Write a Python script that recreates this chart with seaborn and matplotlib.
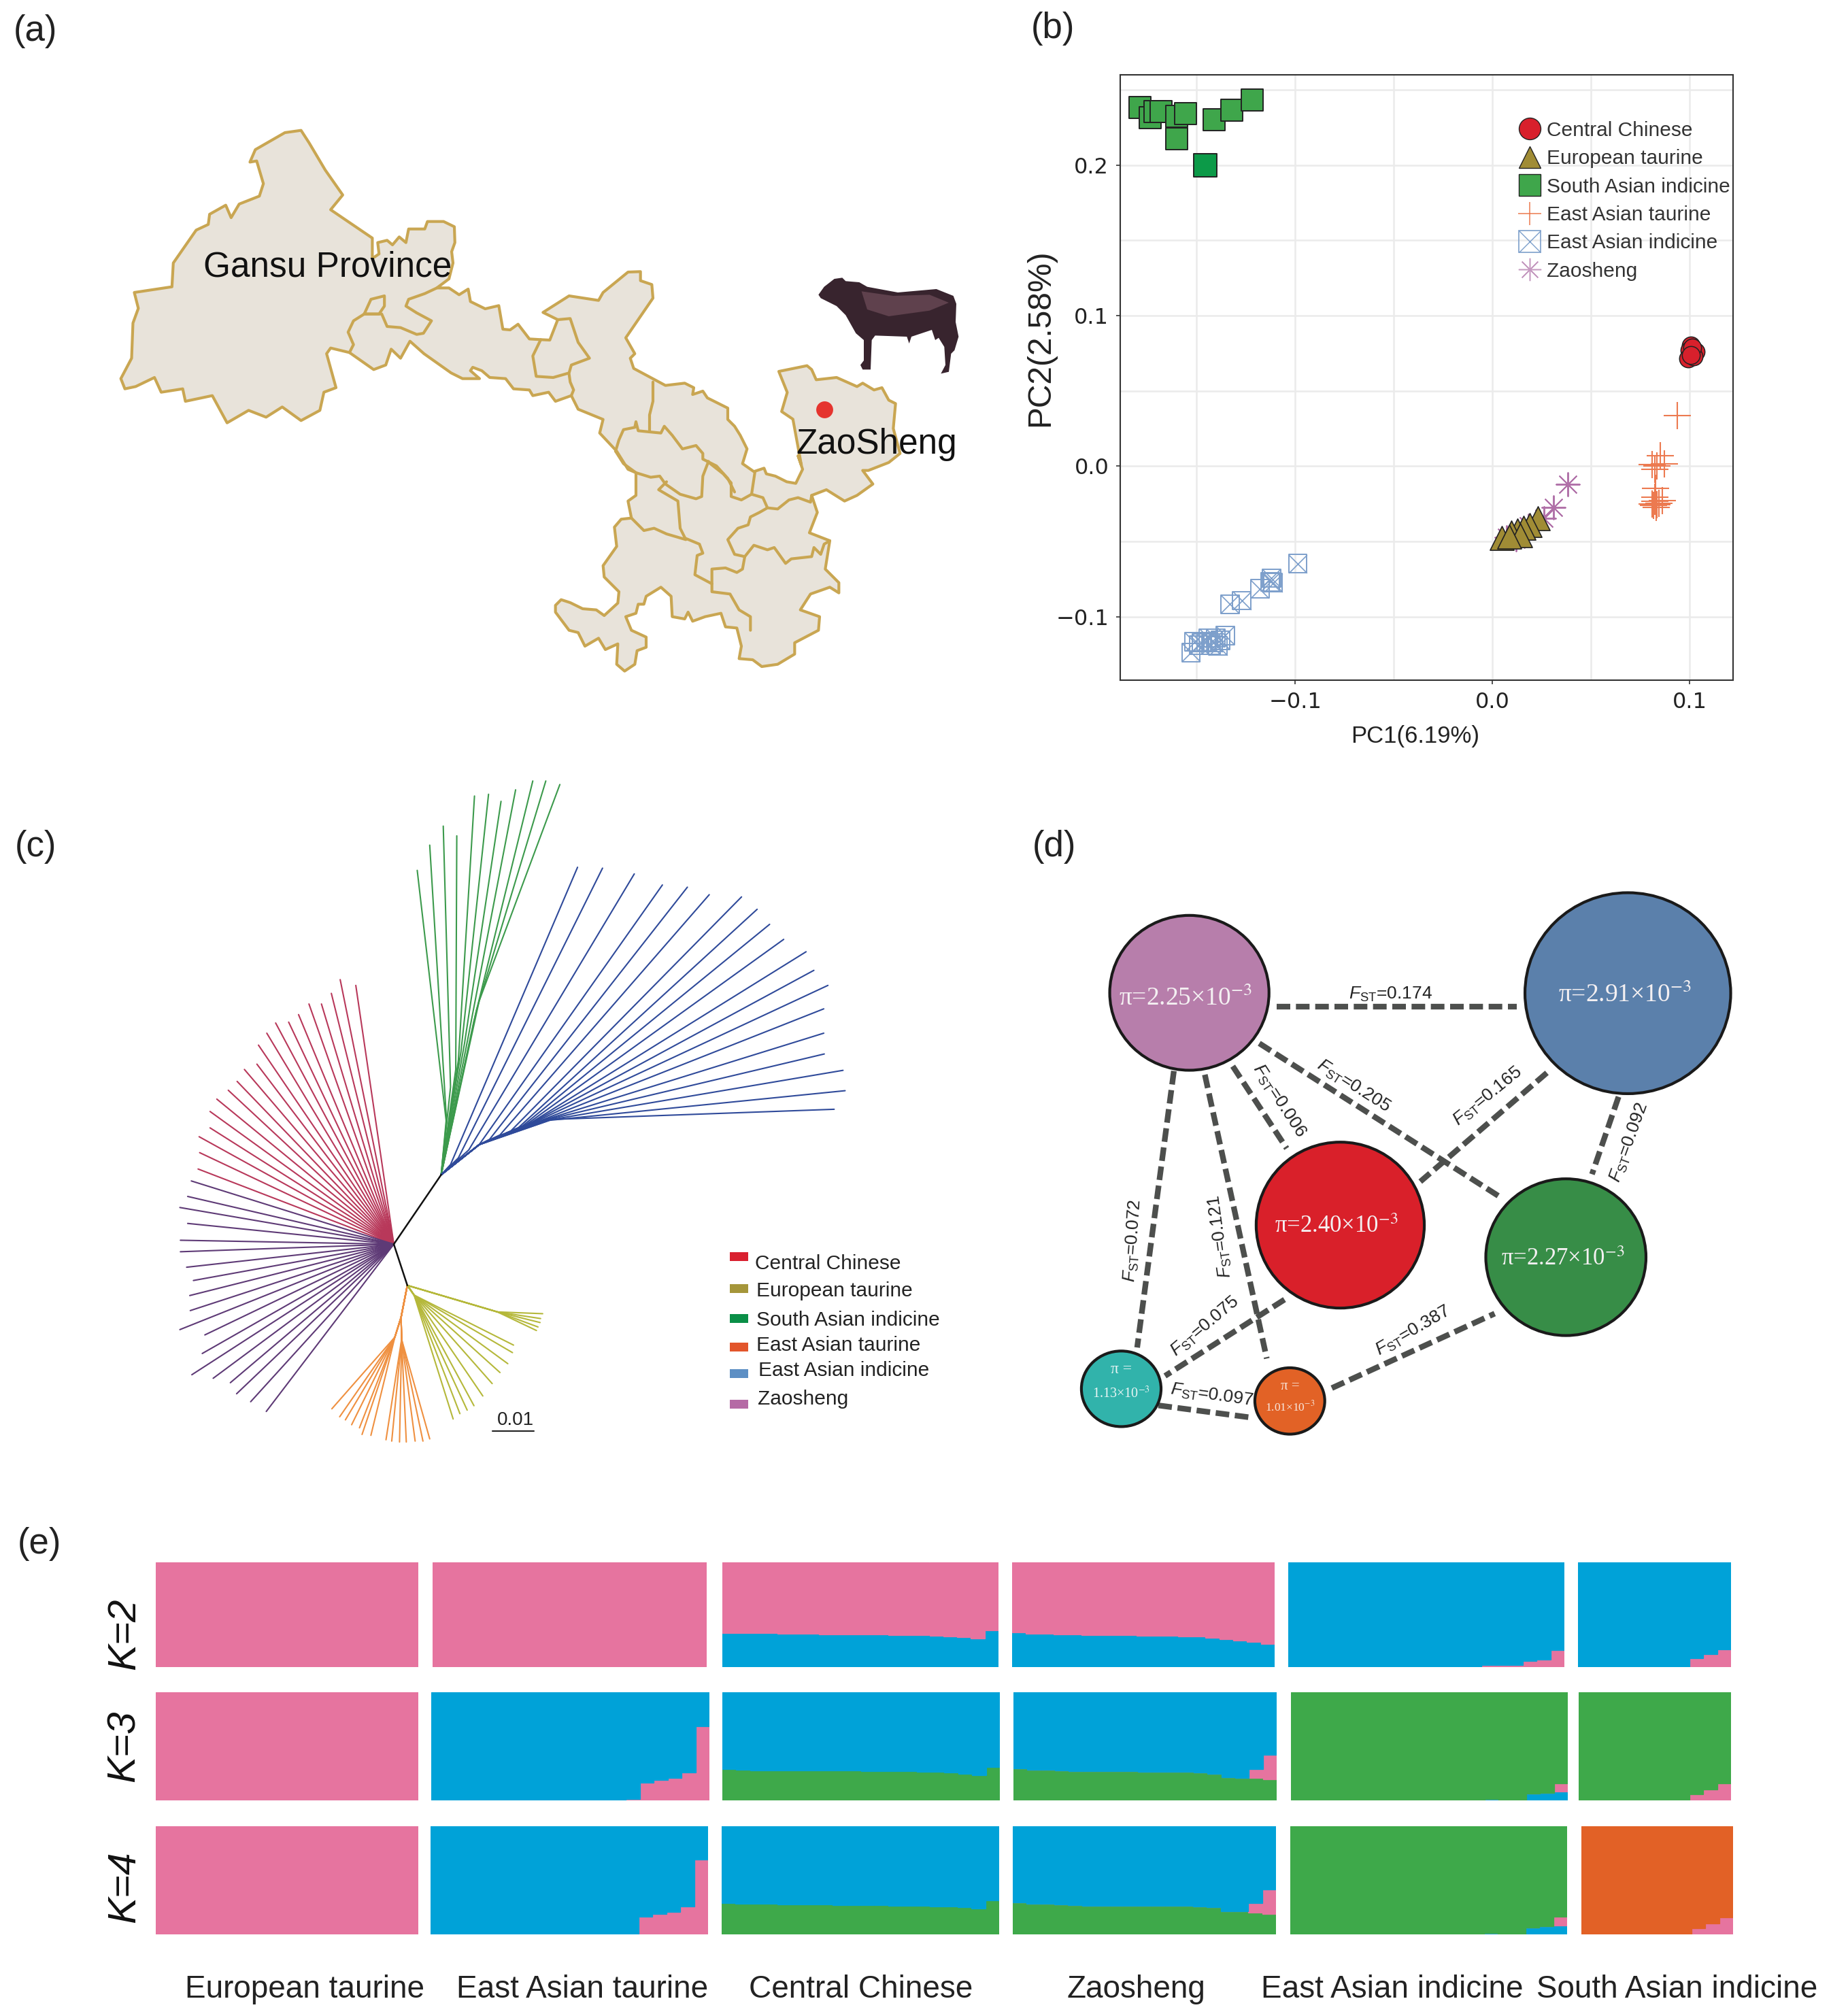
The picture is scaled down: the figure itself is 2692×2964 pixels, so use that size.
import numpy as np
import matplotlib
matplotlib.use('Agg')
import matplotlib.pyplot as plt
from matplotlib.lines import Line2D
from matplotlib.markers import MarkerStyle
from matplotlib.patches import Ellipse, Rectangle
import seaborn as sns

W, H = 2692, 2964

# ── panel (b) PCA points ────────────────────────────────
pc_south = [(-0.1785, 0.2384), (-0.1736, 0.2316), (-0.171, 0.2356), (-0.168, 0.2356), (-0.160, 0.2325),
            (-0.1555, 0.2341), (-0.160, 0.2173), (-0.1412, 0.2303), (-0.132, 0.2362), (-0.1216, 0.2431)]
pc_south_dark = [(-0.1456, 0.1999)]
pc_central = [(0.1004, 0.0802), (0.0999, 0.0771), (0.1028, 0.0762), (0.0992, 0.0715), (0.102, 0.073),
              (0.1011, 0.0786), (0.1004, 0.074)]
pc_ea_taurine = [(0.0938, 0.0336), (0.0851, 0.0071), (0.081, 0.0009), (0.0871, 0.0016), (0.0822, -0.0022),
                 (0.0834, 0.0), (0.0827, -0.0146), (0.0822, -0.0208), (0.0859, -0.023), (0.081, -0.0249),
                 (0.0834, -0.0255), (0.0822, -0.0235), (0.0815, -0.0262), (0.0828, -0.0275), (0.0845, -0.0245)]
pc_zaosheng = [(0.0382, -0.0121), (0.031, -0.0274), (0.0261, -0.0348), (0.0181, -0.0395), (0.0121, -0.0488),
               (0.0073, -0.0472)]
pc_european = [(0.023, -0.0348), (0.0189, -0.0389), (0.0157, -0.041), (0.0126, -0.0426), (0.0097, -0.0441),
               (0.014, -0.0457), (0.0048, -0.0479), (0.0085, -0.0466)]
pc_ea_indicine = [(-0.0987, -0.0647), (-0.112, -0.0743), (-0.1112, -0.0774), (-0.1125, -0.0768), (-0.1178, -0.0814),
                  (-0.127, -0.0892), (-0.133, -0.0917), (-0.1528, -0.1237), (-0.1511, -0.1166), (-0.1475, -0.1172),
                  (-0.1439, -0.1141), (-0.1415, -0.1172), (-0.1391, -0.1194), (-0.1354, -0.1125), (-0.1378, -0.1156),
                  (-0.1427, -0.1187), (-0.1487, -0.1187), (-0.1403, -0.1141), (-0.1451, -0.1166)]
legend_b = ['Central Chinese', 'European taurine', 'South Asian indicine', 'East Asian taurine',
            'East Asian indicine', 'Zaosheng']

# ── panel (a) map, traced from crops of the picture ─────
# each crop: origin x, origin y, x scale, y scale
CROP_A = (150, 160, 2.529, 3)
CROP_B = (580, 380, 3, 3)
CROP_C = (780, 640, 3, 3)
CROP_M = (150, 150, 1.206, 1.78)
CROP_Z = (1180, 390, 3, 3)

outer_a1 = [(740, 95), (770, 150), (830, 270), (895, 380), (850, 445), (1005, 570), (1005, 660), (1030, 640),
            (1025, 590), (1060, 580), (1080, 600), (1105, 565), (1130, 590), (1140, 530), (1200, 530), (1210, 497),
            (1270, 497), (1310, 520), (1312, 590), (1300, 630), (1305, 680), (1290, 750), (1245, 790)]
outer_b1 = [(240, 130), (285, 160), (325, 135), (335, 190), (400, 222), (460, 208), (478, 312), (510, 315), (545, 290),
            (595, 355), (645, 358), (685, 360), (720, 270), (655, 238), (770, 165), (900, 185), (920, 150), (1030, 60),
            (1085, 58), (1085, 98), (1135, 115), (1140, 175), (1020, 350), (1060, 420), (1040, 440), (1055, 485),
            (1195, 560), (1280, 550), (1320, 570), (1315, 600), (1360, 585), (1380, 615), (1470, 660), (1470, 710),
            (1500, 740)]
outer_c1 = [(925, 0), (955, 60), (935, 125), (985, 160), (1030, 145), (1040, 170), (1080, 180), (1130, 205), (1170, 212),
            (1200, 150), (1180, 90)]
outer_m = [(1240, 950), (1225, 830), (1205, 810), (1215, 760), (1200, 705), (1250, 690)]
outer_z = [(40, 460), (60, 505), (150, 495), (240, 535), (265, 520), (315, 550), (350, 540), (380, 595), (410, 610),
           (400, 720), (430, 830), (380, 870), (290, 905), (265, 905)]
outer_c2 = [(1510, 215), (1440, 265), (1385, 290), (1305, 240), (1240, 265), (1265, 340), (1230, 430), (1320, 465),
            (1300, 590), (1360, 650), (1360, 695), (1320, 670), (1235, 700), (1190, 770), (1275, 800), (1270, 860),
            (1165, 915), (1165, 965), (1090, 1010), (1020, 1020), (980, 990), (920, 985), (930, 930), (910, 850),
            (860, 845), (840, 785), (770, 800), (715, 820), (695, 780), (680, 810), (625, 800), (620, 710), (575, 670),
            (510, 710), (500, 745), (475, 745), (465, 785), (420, 800), (445, 860), (510, 890), (510, 935), (470, 950),
            (460, 1010), (415, 1040), (380, 1010), (385, 920), (330, 945), (300, 895), (240, 930), (210, 870),
            (170, 860), (110, 780), (110, 750), (135, 725), (175, 738), (230, 765), (290, 770), (325, 795), (385, 740),
            (390, 690), (325, 625), (320, 575), (380, 490), (370, 405), (400, 370), (445, 365), (430, 290), (465, 265),
            (465, 165), (430, 150), (380, 70)]
outer_b2 = [(905, 770), (920, 710), (810, 665), (780, 605), (710, 630), (680, 590), (610, 605), (595, 580), (525, 575),
            (490, 530), (420, 525), (385, 495), (345, 480), (335, 495), (375, 530), (300, 530), (250, 505), (130, 420)]
outer_a2 = [(1145, 1025), (1110, 1100), (1075, 1060), (1055, 1130), (1010, 1150), (920, 1075), (850, 1055), (835, 1080),
            (870, 1230), (825, 1250), (810, 1330), (740, 1375), (670, 1315), (610, 1360), (545, 1330), (465, 1385),
            (410, 1265), (310, 1290), (300, 1235), (220, 1250), (195, 1185), (125, 1225), (85, 1235), (70, 1190),
            (110, 1100), (115, 945), (135, 880), (120, 810), (260, 785), (265, 680), (350, 535), (395, 510), (400, 465),
            (460, 425), (480, 480), (510, 420), (585, 385), (600, 330), (575, 230), (550, 235), (570, 180), (680, 105)]
outer_parts = [(outer_a1, CROP_A), (outer_b1, CROP_B), (outer_c1, CROP_C), (outer_m, CROP_M), (outer_z, CROP_Z),
               (outer_c2, CROP_C), (outer_b2, CROP_B), (outer_a2, CROP_A)]

inner_a = [[(975, 905), (1000, 840), (1050, 825), (1050, 870), (1030, 905), (975, 905)],
           [(920, 1075), (935, 1040), (915, 985), (935, 935), (975, 905), (1040, 905), (1060, 960), (1110, 965),
            (1170, 995), (1195, 990), (1225, 935), (1170, 900), (1130, 870), (1140, 840), (1200, 815), (1245, 790)]]
inner_b = [[(645, 358), (610, 430), (625, 520), (700, 525), (770, 505), (780, 470), (860, 440), (810, 370), (775, 265),
            (720, 270)],
           [(770, 510), (775, 545), (790, 580), (780, 605)],
           [(1140, 545), (1140, 630), (1125, 690), (1125, 765)],
           [(975, 850), (990, 800), (1010, 755), (1060, 745), (1065, 720), (1075, 760), (1125, 765), (1175, 770),
            (1190, 740), (1225, 780), (1270, 840), (1330, 825), (1360, 860), (1360, 885), (1420, 915), (1470, 970),
            (1500, 1030)],
           [(975, 850), (1010, 905), (1065, 945), (1130, 965), (1170, 960), (1195, 995), (1260, 1040), (1330, 1060),
            (1355, 1050), (1360, 960), (1385, 895)]]
inner_c = [[(600, 205), (565, 240), (650, 290), (660, 410), (685, 460), (600, 435), (545, 410), (500, 420), (445, 365)],
           [(685, 455), (745, 480), (760, 520), (735, 530), (725, 615), (800, 655), (800, 590), (860, 585), (910, 605),
            (935, 590), (945, 535)],
           [(800, 655), (800, 690), (880, 700), (920, 770), (970, 800), (970, 860)],
           [(945, 535), (900, 525), (870, 460), (915, 410), (960, 395), (970, 360), (1010, 340), (1045, 320), (1025, 275),
            (975, 260), (990, 160)],
           [(975, 260), (930, 285), (885, 270), (885, 210), (850, 170), (780, 115)],
           [(1045, 320), (1090, 325), (1140, 285), (1180, 275), (1235, 295), (1240, 265)],
           [(945, 535), (985, 485), (1045, 505), (1075, 495), (1125, 565), (1150, 545), (1240, 535), (1250, 495),
            (1280, 525), (1295, 480), (1320, 465)]]
cow_body = [(70, 130), (95, 95), (140, 60), (175, 55), (190, 70), (250, 75), (285, 95), (420, 120), (590, 105), (665, 135),
            (678, 170), (675, 250), (688, 315), (670, 375), (655, 390), (645, 470), (610, 478), (630, 440), (625, 360),
            (600, 320), (585, 330), (570, 285), (480, 315), (470, 345), (460, 315), (320, 310), (305, 330), (300, 460),
            (265, 460), (255, 440), (270, 420), (270, 330), (235, 300), (190, 220), (150, 180), (80, 145)]
cow_light = [(260, 115), (400, 135), (560, 130), (645, 165), (560, 200), (380, 225), (285, 195)]

# ── panel (c) tree tips ─────────────────────────────────
tree_root = (456, 1075)
node_up = (547, 918)
node_down = (482, 1168)
tips_red = [(383, 490), (353, 477), (336, 508), (317, 532), (293, 532), (273, 556), (254, 573), (229, 575), (212, 598),
            (196, 625), (193, 668), (169, 680), (155, 707), (138, 727), (116, 747), (103, 775), (103, 812), (82, 832),
            (83, 868), (80, 905)]
tips_purple = [(67, 932), (60, 967), (45, 992), (60, 1028), (46, 1066), (46, 1092), (58, 1127), (71, 1157), (64, 1191),
               (65, 1225), (45, 1268), (93, 1280), (88, 1322), (68, 1370), (109, 1378), (142, 1388), (154, 1413),
               (181, 1431), (211, 1453)]
tips_green = [(501, 230), (525, 173), (551, 130), (577, 152), (611, 62), (638, 58), (662, 74), (690, 48), (723, 28),
              (748, 28), (775, 36)]
forks_green = [(557, 800), (557, 790), (565, 720), (575, 680), (580, 660), (585, 640), (592, 620), (600, 600),
               (610, 570), (615, 545), (620, 525)]
tips_blue = [(809, 223), (857, 225), (918, 238), (972, 263), (1020, 268), (1062, 285), (1124, 290), (1154, 318),
             (1178, 352), (1205, 386), (1248, 414), (1263, 456), (1290, 490), (1282, 543), (1282, 598), (1283, 645),
             (1319, 682), (1323, 728), (1302, 770)]
forks_blue = [(565, 895), (580, 880), (600, 862), (620, 850), (640, 838), (660, 828), (680, 820), (695, 812),
              (703, 808), (710, 805), (720, 800), (725, 798), (730, 797), (735, 797), (740, 796), (745, 795),
              (750, 795), (755, 795), (760, 793)]
tips_orange_a = [(337, 1447), (352, 1465), (363, 1472), (375, 1483), (390, 1490), (395, 1505), (412, 1507)]
tips_orange_b = [(441, 1517), (452, 1520), (467, 1522), (480, 1522), (497, 1520), (512, 1520), (525, 1515)]
tips_olive = [(570, 1470), (583, 1458), (597, 1450), (610, 1440), (627, 1418), (645, 1390), (660, 1365), (675, 1345),
              (684, 1320), (686, 1303)]
tips_olive_far = [(742, 1232), (738, 1243), (737, 1252), (733, 1262), (730, 1270)]
legend_c = ['Central Chinese', 'European taurine', 'South Asian indicine', 'East Asian taurine',
            'East Asian indicine', 'Zaosheng']
legend_c_rect_y = [1103, 1175, 1243, 1308, 1367, 1437]
legend_c_text_y = [1119, 1181, 1247, 1304, 1361, 1425]
legend_c_text_x = [1150, 1152, 1152, 1153, 1157, 1155]
legend_c_colors = ['#d9202f', '#a5963a', '#0a8f47', '#e2552b', '#5d8fc4', '#b56aa5']

# ── panel (d) diversity nodes and FST links ─────────────
node_x = [290, 1281, 631, 1141, 136, 517]
node_y = [313, 314, 943, 1030, 1387, 1420]
node_w = [360, 465, 380, 362, 180, 158]
node_h = [420, 545, 450, 425, 205, 180]
node_colors = ['#b77eab', '#5b80ab', '#d9202a', '#378d47', '#31b3ab', '#e26226']
pi_values = ['2.25', '2.91', '2.40', '2.27', '1.13', '1.01']
links = [((488, 350), (1030, 350)), ((448, 450), (990, 865)), ((388, 512), (510, 735)), ((255, 525), (172, 1275)),
         ((325, 535), (465, 1305)), ((1098, 530), (812, 825)), ((1260, 595), (1200, 805)), ((505, 1145), (235, 1352)),
         ((612, 1385), (980, 1183)), ((220, 1432), (430, 1465))]
fst_values = ['0.174', '0.205', '0.006', '0.072', '0.121', '0.165', '0.092', '0.075', '0.387', '0.097']
fst_x = [745, 660, 492, 163, 360, 965, 1285, 325, 795, 340]
fst_y = [318, 567, 605, 985, 975, 595, 720, 1218, 1230, 1405]
fst_angle = [0, -32.5, -57, 86, 98, 39, 70, 40, 30, -8]

# ── panel (e) admixture bars ────────────────────────────
PINK, BLUE, GREEN, ORANGE = '#e6749f', '#00a2d8', '#3ea94a', '#e26126'
n_bars = [19, 20, 20, 19, 20, 11]
group_labels = ['European taurine', 'East Asian taurine', 'Central Chinese', 'Zaosheng', 'East Asian indicine',
                'South Asian indicine']
group_label_x = [448, 856, 1266, 1670, 2047, 2466]

k2_cc_blue = [.326, .325, .324, .323, .318, .316, .315, .314, .313, .312, .312, .311, .306, .304, .302, .296, .292,
              .286, .274, .349]
k2_zao_blue = [.334, .32, .32, .314, .309, .306, .306, .303, .303, .297, .297, .297, .294, .291, .28, .263, .254,
               .243, .22]
k2_eai_pink = [0] * 14 + [.02, .02, .02, .057, .071, .163]
k2_sai_pink = [0] * 8 + [.086, .126, .171]

k3_eat_pink = [0] * 14 + [.014, .166, .19, .207, .257, .688]
k3_cc_green = [.287, .285, .279, .279, .276, .274, .274, .274, .274, .274, .271, .268, .271, .268, .265, .262, .257,
               .246, .235, .309]
k3_zao_green = [.296, .282, .282, .276, .271, .271, .271, .271, .268, .265, .262, .262, .262, .26, .246, .213, .21,
                .207, .193]
k3_zao_pink = [0] * 17 + [.08, .227]
k3_eai_blue = [0] * 14 + [.015, 0, 0, .06, .07, .083]
k3_eai_pink = [0] * 19 + [.075]
k3_sai_pink = [0] * 8 + [.055, .1, .155]

k4_eat_pink = [0] * 14 + [.008, .163, .188, .21, .26, .69]
k4_cc_green = [.288, .285, .283, .283, .277, .274, .274, .274, .271, .269, .269, .269, .266, .263, .263, .26, .255,
               .249, .238, .313]
k4_zao_green = [.294, .283, .283, .274, .269, .266, .266, .266, .266, .263, .263, .263, .263, .258, .249, .213, .213,
                .202, .191]
k4_zao_pink = [0] * 17 + [.086, .227]
k4_eai_blue = [0] * 14 + [.012, 0, 0, .066, .075, .08]
k4_eai_pink = [0] * 19 + [.083]
k4_sai_pink = [0] * 8 + [.058, .1, .155]

# ── style ───────────────────────────────────────────────
sns.set_style('white')
plt.rcParams['font.family'] = ['Liberation Sans', 'DejaVu Sans']
plt.rcParams['mathtext.fontset'] = 'custom'
plt.rcParams['mathtext.rm'] = 'Liberation Sans'
plt.rcParams['mathtext.it'] = 'Liberation Sans:italic'
plt.rcParams['mathtext.bf'] = 'Liberation Sans:bold'

fig = plt.figure(figsize=(W / 100, H / 100), dpi=100, facecolor='white')


def px_axes(x0, y0, x1, y1):
    return fig.add_axes([x0 / W, 1 - y1 / H, (x1 - x0) / W, (y1 - y0) / H])


def crop_axes(x, y, w, h):
    ax = px_axes(x, y, x + w, y + h)
    ax.set_xlim(0, 1568)
    ax.set_ylim(1568, 0)
    ax.axis('off')
    ax.patch.set_alpha(0)
    return ax


def fig_text(x, y, s, **kw):
    kw.setdefault('ha', 'center')
    kw.setdefault('va', 'center')
    fig.text(x / W, 1 - y / H, s, **kw)


for letter, lx, ly in [('(a)', 20, 46), ('(b)', 1516, 42), ('(c)', 22, 1245), ('(d)', 1518, 1245), ('(e)', 26, 2270)]:
    fig_text(lx, ly, letter, ha='left', fontsize=38, color='#222222')


# ── Panel a: map ────────────────────────────────────────
def to_px(points, crop):
    ox, oy, sx, sy = crop
    return [(ox + p[0] / sx, oy + p[1] / sy) for p in points]


ax_a = px_axes(150, 150, 1450, 1030)
ax_a.set_xlim(150, 1450)
ax_a.set_ylim(1030, 150)
ax_a.axis('off')
ax_a.patch.set_alpha(0)
MAP_EDGE = '#c9a652'
outline = []
for part, crop in outer_parts:
    outline += to_px(part, crop)
ax_a.fill(*zip(*outline), facecolor='#e8e3da', edgecolor=MAP_EDGE, linewidth=3, joinstyle='round')
for group, crop in [(inner_a, CROP_A), (inner_b, CROP_B), (inner_c, CROP_C)]:
    for line in group:
        ax_a.plot(*zip(*to_px(line, crop)), color=MAP_EDGE, linewidth=3, solid_joinstyle='round')
ax_a.fill(*zip(*to_px(cow_body, CROP_Z)), color='#38242e', linewidth=0)
ax_a.fill(*zip(*to_px(cow_light, CROP_Z)), color='#5f414d', linewidth=0)
ax_a.scatter([1212], [602], s=320, color='#e5342e', linewidth=0, zorder=5)
ax_a.text(482, 393, 'Gansu Province', fontsize=37, ha='center', va='center', color='#111111')
ax_a.text(1289, 654, 'ZaoSheng', fontsize=37, ha='center', va='center', color='#111111')

# ── Panel b: PCA ────────────────────────────────────────
ax_b = px_axes(1647, 110, 2548, 1000)
ax_b.set_xlim(-0.1886, 0.1219)
ax_b.set_ylim(-0.1421, 0.2599)
ax_b.set_xticks([-0.1, 0.0, 0.1])
ax_b.set_xticklabels(['\u22120.1', '0.0', '0.1'])
ax_b.set_yticks([-0.1, 0.0, 0.1, 0.2])
ax_b.set_yticklabels(['\u22120.1', '0.0', '0.1', '0.2'])
ax_b.set_xticks([-0.15, -0.05, 0.05], minor=True)
ax_b.set_yticks([-0.05, 0.05, 0.15, 0.25], minor=True)
ax_b.grid(True, which='both', color='#ebebeb', linewidth=1.8)
ax_b.set_axisbelow(True)
ax_b.tick_params(axis='both', which='major', length=4, width=1.2, color='#333333', labelsize=23,
                 labelcolor='#222222', left=True, bottom=True, pad=8)
ax_b.tick_params(axis='both', which='minor', length=0)
for lab in ax_b.get_xticklabels() + ax_b.get_yticklabels():
    lab.set_family(['DejaVu Sans'])
for sp in ax_b.spines.values():
    sp.set_color('#333333')
    sp.set_linewidth(1.5)


def scatter(points, **kw):
    xs, ys = zip(*points)
    sns.scatterplot(x=list(xs), y=list(ys), ax=ax_b, legend=False, **kw)


scatter(pc_south, marker='s', s=520, color='#3fa64b', edgecolor='#222222', linewidth=1.4)
scatter(pc_south_dark, marker='s', s=620, color='#0c9a48', edgecolor='#222222', linewidth=1.4)
scatter(pc_ea_indicine, marker=MarkerStyle('s', fillstyle='none'), s=370, color='#7d9fcb', linewidth=1.4)
scatter(pc_ea_indicine, marker='x', s=370, color='#7d9fcb', linewidth=1.2)
scatter(pc_ea_taurine, marker='+', s=800, color='#ec7a50', linewidth=1.5)
scatter(pc_zaosheng, marker=(8, 2, 0), s=620, color='#b070a8', linewidth=1.4)
scatter(pc_european, marker='^', s=640, color='#a08c35', edgecolor='#222222', linewidth=1.2)
scatter(pc_central, marker='o', s=360, color='#d8202c', edgecolor='#222222', linewidth=1.1)

h_box = (Line2D([], [], marker=MarkerStyle('s', fillstyle='none'), linestyle='', color='#7d9fcb', markersize=23,
                markeredgewidth=1.2),
         Line2D([], [], marker='x', linestyle='', color='#7d9fcb', markersize=23, markeredgewidth=1.0))
handles_b = [
    Line2D([], [], marker='o', linestyle='', markerfacecolor='#d8202c', markeredgecolor='#222222', markersize=23),
    Line2D([], [], marker='^', linestyle='', markerfacecolor='#a08c35', markeredgecolor='#222222', markersize=23),
    Line2D([], [], marker='s', linestyle='', markerfacecolor='#3fa64b', markeredgecolor='#222222', markersize=23),
    Line2D([], [], marker='+', linestyle='', color='#ec7a50', markersize=25, markeredgewidth=1.1),
    h_box,
    Line2D([], [], marker=(8, 2, 0), linestyle='', color='#c59ac0', markersize=24, markeredgewidth=1.1),
]
ax_b.legend(handles_b, legend_b, loc='upper left', bbox_to_anchor=(0.6465, 0.924), frameon=False, fontsize=21.5,
            labelspacing=0.45, handletextpad=0.2, borderpad=0, borderaxespad=0, handlelength=1.3,
            labelcolor='#333333')
ax_b.set_xlabel('PC1(6.19%)', fontsize=25, color='#222222')
ax_b.set_ylabel('PC2(2.58%)', fontsize=34.5, color='#222222')
ax_b.xaxis.set_label_coords(0.481, -0.074)
ax_b.yaxis.set_label_coords(-0.105, 0.565)

# ── Panel c: tree ───────────────────────────────────────
ax_c = crop_axes(230, 1130, 1200, 1020)


def branch(path, color, lw=1.5):
    xs, ys = zip(*path)
    ax_c.plot(xs, ys, color=color, linewidth=lw, solid_capstyle='round')


for tip in tips_red:
    branch([tree_root, tip], '#b8385a')
for tip in tips_purple:
    branch([tree_root, tip], '#5e3a76')
for tip, fork in zip(tips_green, forks_green):
    branch([node_up, fork, tip], '#3c9a4c')
for tip, fork in zip(tips_blue, forks_blue):
    branch([node_up, (620, 850) if fork[0] > 620 else fork, fork, tip], '#2f4a9a')
branch([(620, 850), (670, 825), (700, 810), (735, 797), (760, 793)], '#2f4a9a')
for tip in tips_orange_a:
    branch([node_down, (470, 1240), (458, 1285), tip], '#ef9040')
for tip in tips_orange_b:
    branch([node_down, (470, 1240), (471, 1290), tip], '#ef9040')
for tip in tips_olive:
    branch([node_down, (495, 1190), tip], '#b5b83a')
for tip in tips_olive_far:
    branch([node_down, (655, 1228), tip], '#b5b83a')
branch([tree_root, node_up], '#111111', lw=1.8)
branch([tree_root, node_down], '#111111', lw=1.8)
ax_c.plot([645, 725], [1497, 1497], color='#222222', linewidth=1.5)
ax_c.text(690, 1472, '0.01', fontsize=20, ha='center', va='center', color='#222222')
for label, ry, ty, tx, col in zip(legend_c, legend_c_rect_y, legend_c_text_y, legend_c_text_x, legend_c_colors):
    ax_c.add_patch(Rectangle((1102, ry - 10), 35, 20, facecolor=col, edgecolor='none'))
    ax_c.text(tx, ty, label, fontsize=21.5, ha='left', va='center', color='#222222')

# ── Panel d: network ────────────────────────────────────
ax_d = crop_axes(1560, 1290, 1020, 850)
for (p0, p1) in links:
    ax_d.plot([p0[0], p1[0]], [p0[1], p1[1]], color='#4d4f4d', linewidth=6, linestyle=(0, (2.4, 1.0)), zorder=1)
for val, fx, fy, ang in zip(fst_values, fst_x, fst_y, fst_angle):
    ax_d.text(fx, fy, r'$\mathit{F}_{\mathrm{ST}}$=' + val, fontsize=19, rotation=ang, rotation_mode='anchor',
              ha='center', va='center', color='#222222', zorder=4)
for x, y, w, h, col in zip(node_x, node_y, node_w, node_h, node_colors):
    ax_d.add_patch(Ellipse((x, y), w, h, facecolor=col, edgecolor='#1a1a1a', linewidth=3, zorder=2))
big_sizes = [27, 27, 25, 25]
for x, y, val, fs in zip(node_x[:4], node_y[:4], pi_values[:4], big_sizes):
    ax_d.text(x - 8 if x < 700 else x - 6, y + 15 if x < 700 and y < 500 else y + 5,
              '\u03c0=' + val + '\u00d710$^{-3}$', fontsize=fs, ha='center', va='center', color='#f4f0f2',
              family='Liberation Serif', math_fontfamily='stix', zorder=3)
ax_d.text(136, 1335, '\u03c0 =', fontsize=17, ha='center', va='center', color='#e8f5f4',
          family='Liberation Serif', zorder=3)
ax_d.text(136, 1400, pi_values[4] + '\u00d710$^{-3}$', fontsize=14.5, ha='center', va='center', color='#e8f5f4',
          family='Liberation Serif', math_fontfamily='stix', zorder=3)
ax_d.text(517, 1380, '\u03c0 =', fontsize=15, ha='center', va='center', color='#f8e6dc',
          family='Liberation Serif', zorder=3)
ax_d.text(517, 1435, pi_values[5] + '\u00d710$^{-3}$', fontsize=12.5, ha='center', va='center', color='#f8e6dc',
          family='Liberation Serif', math_fontfamily='stix', zorder=3)

# ── Panel e: admixture ──────────────────────────────────
rows = [
    {'label': 'K=2', 'label_y': 2402, 'y': (2297, 2451),
     'x': [(229, 615), (636, 1039), (1062, 1468), (1488, 1874), (1894, 2300), (2320, 2545)],
     'groups': [[(None, PINK)],
                [(None, PINK)],
                [(k2_cc_blue, BLUE), (None, PINK)],
                [(k2_zao_blue, BLUE), (None, PINK)],
                [(k2_eai_pink, PINK), (None, BLUE)],
                [(k2_sai_pink, PINK), (None, BLUE)]]},
    {'label': 'K=3', 'label_y': 2567, 'y': (2488, 2647),
     'x': [(229, 615), (634, 1043), (1062, 1470), (1490, 1877), (1898, 2305), (2321, 2545)],
     'groups': [[(None, PINK)],
                [(k3_eat_pink, PINK), (None, BLUE)],
                [(k3_cc_green, GREEN), (None, BLUE)],
                [(k3_zao_green, GREEN), (k3_zao_pink, PINK), (None, BLUE)],
                [(k3_eai_blue, BLUE), (k3_eai_pink, PINK), (None, GREEN)],
                [(k3_sai_pink, PINK), (None, GREEN)]]},
    {'label': 'K=4', 'label_y': 2774, 'y': (2685, 2844),
     'x': [(229, 615), (633, 1041), (1061, 1469), (1489, 1876), (1897, 2304), (2325, 2548)],
     'groups': [[(None, PINK)],
                [(k4_eat_pink, PINK), (None, BLUE)],
                [(k4_cc_green, GREEN), (None, BLUE)],
                [(k4_zao_green, GREEN), (k4_zao_pink, PINK), (None, BLUE)],
                [(k4_eai_blue, BLUE), (k4_eai_pink, PINK), (None, GREEN)],
                [(k4_sai_pink, PINK), (None, ORANGE)]]},
]
for row in rows:
    y0, y1 = row['y']
    for (x0, x1), layers, n in zip(row['x'], row['groups'], n_bars):
        ax = px_axes(x0, y0, x1, y1)
        bottom = np.zeros(n)
        for vals, col in layers:
            heights = 1 - bottom if vals is None else np.array(vals, dtype=float)
            # same-colour edge closes the seams between neighbouring bars
            sns.barplot(x=np.arange(n), y=heights, bottom=bottom, color=col, saturation=1, width=1, errorbar=None,
                        edgecolor=col, linewidth=0.9, ax=ax)
            bottom = bottom + heights
        ax.set_xlim(-0.5, n - 0.5)
        ax.set_ylim(0, 1)
        ax.axis('off')
    fig_text(183, row['label_y'], row['label'], rotation=90, fontsize=42, style='italic', color='#111111')

for label, lx in zip(group_labels, group_label_x):
    fig_text(lx, 2925, label, fontsize=33, color='#222222')

plt.savefig('out.png', dpi=100)
